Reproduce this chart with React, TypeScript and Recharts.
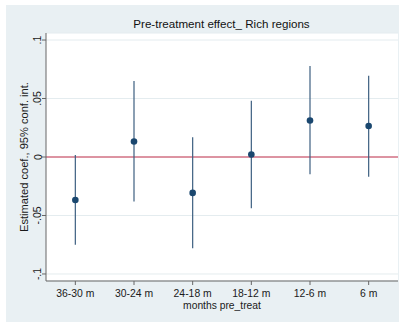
import * as React from 'react';
import {ComposedChart, CartesianGrid, XAxis, YAxis, Scatter, ErrorBar, ReferenceLine} from "recharts";

const periods: string[] = ["36-30 m", "30-24 m", "24-18 m", "18-12 m", "12-6 m", "6 m"];
const coef: number[] = [-0.0367, 0.0132, -0.0307, 0.0022, 0.0312, 0.0265];
const ciLow: number[] = [-0.0750, -0.0380, -0.0780, -0.0438, -0.0148, -0.0168];
const ciHigh: number[] = [0.0017, 0.0650, 0.0168, 0.0480, 0.0777, 0.0694];
const yTicks: number[] = [-0.1, -0.05, 0, 0.05, 0.1];
const yTickLabels: string[] = ["-.1", "-.05", "0", ".05", ".1"];

const FONT = '"Liberation Sans", Arial, sans-serif';

interface Point {
    pos: number,
    coef: number,
    err: [number, number],
}

function YTick(props: any) {
    const i = yTicks.indexOf(props.payload.value);
    const label = i >= 0 ? yTickLabels[i] : String(props.payload.value);
    return (
        <text x={41.5} y={props.y} transform={`rotate(-90, 41.5, ${props.y})`} textAnchor="middle"
              fontSize={10.5} fontFamily={FONT} fill="#1a1a1a">{label}</text>
    );
}

export default function App() {
    const data: Point[] = [];
    for (let i = 0; i < periods.length; i++) {
        data.push({pos: i + 1, coef: coef[i], err: [coef[i] - ciLow[i], ciHigh[i] - coef[i]]});
    }

    return (
        <div style={{position: 'absolute', left: 0, top: 0, width: 403, height: 322}}>
            <div style={{position: 'absolute', left: 6, top: 5, width: 393, height: 317, background: '#E9F0F3'}}/>
            <div style={{position: 'absolute', left: 0, top: 0}}>
                <ComposedChart width={403} height={322} data={data}
                               margin={{top: 33, right: 5, left: 0, bottom: 0}}>
                    <CartesianGrid vertical={false} stroke="#E4ECEF" fill="#ffffff"/>
                    <XAxis type="number" dataKey="pos" domain={[0.5, 6.5]} ticks={[1, 2, 3, 4, 5, 6]}
                           tickFormatter={(v: number) => periods[v - 1]} height={41} tickSize={4} tickMargin={5}
                           tick={{fontSize: 10.4, fill: '#1a1a1a', fontFamily: FONT}}
                           axisLine={{stroke: '#666'}} tickLine={{stroke: '#666'}}
                           label={{
                               content: () => <text x={222} y={309} textAnchor="middle" fontSize={10.3}
                                                    fontFamily={FONT} fill="#1a1a1a">months pre_treat</text>
                           }}/>
                    <YAxis type="number" dataKey="coef" domain={[-0.106, 0.106]} ticks={yTicks} width={46}
                           tickSize={4} tick={<YTick/>} axisLine={{stroke: '#666'}} tickLine={{stroke: '#666'}}
                           label={{
                               content: () => <text x={28} y={157} transform="rotate(-90, 28, 157)"
                                                    textAnchor="middle" fontSize={11.1} fontFamily={FONT}
                                                    fill="#1a1a1a">Estimated coef., 95% conf. int.</text>
                           }}/>
                    <ReferenceLine y={0} stroke="#C8324F" strokeWidth={1.2}/>
                    <Scatter dataKey="coef" fill="#1A476F" isAnimationActive={false}
                             shape={(p: any) => <circle cx={p.cx} cy={p.cy} r={3.3} fill="#1A476F"/>}>
                        <ErrorBar dataKey="err" direction="y" width={0} stroke="#3D5F80" strokeWidth={1.2}
                                  isAnimationActive={false}/>
                    </Scatter>
                </ComposedChart>
            </div>
            <svg width={403} height={40} style={{position: 'absolute', left: 0, top: 0, pointerEvents: 'none'}}>
                <text x={221.5} y={28} textAnchor="middle" fontSize={11.6} fontFamily={FONT} fill="#111">
                    Pre-treatment effect_ Rich regions
                </text>
            </svg>
        </div>
    );
}
